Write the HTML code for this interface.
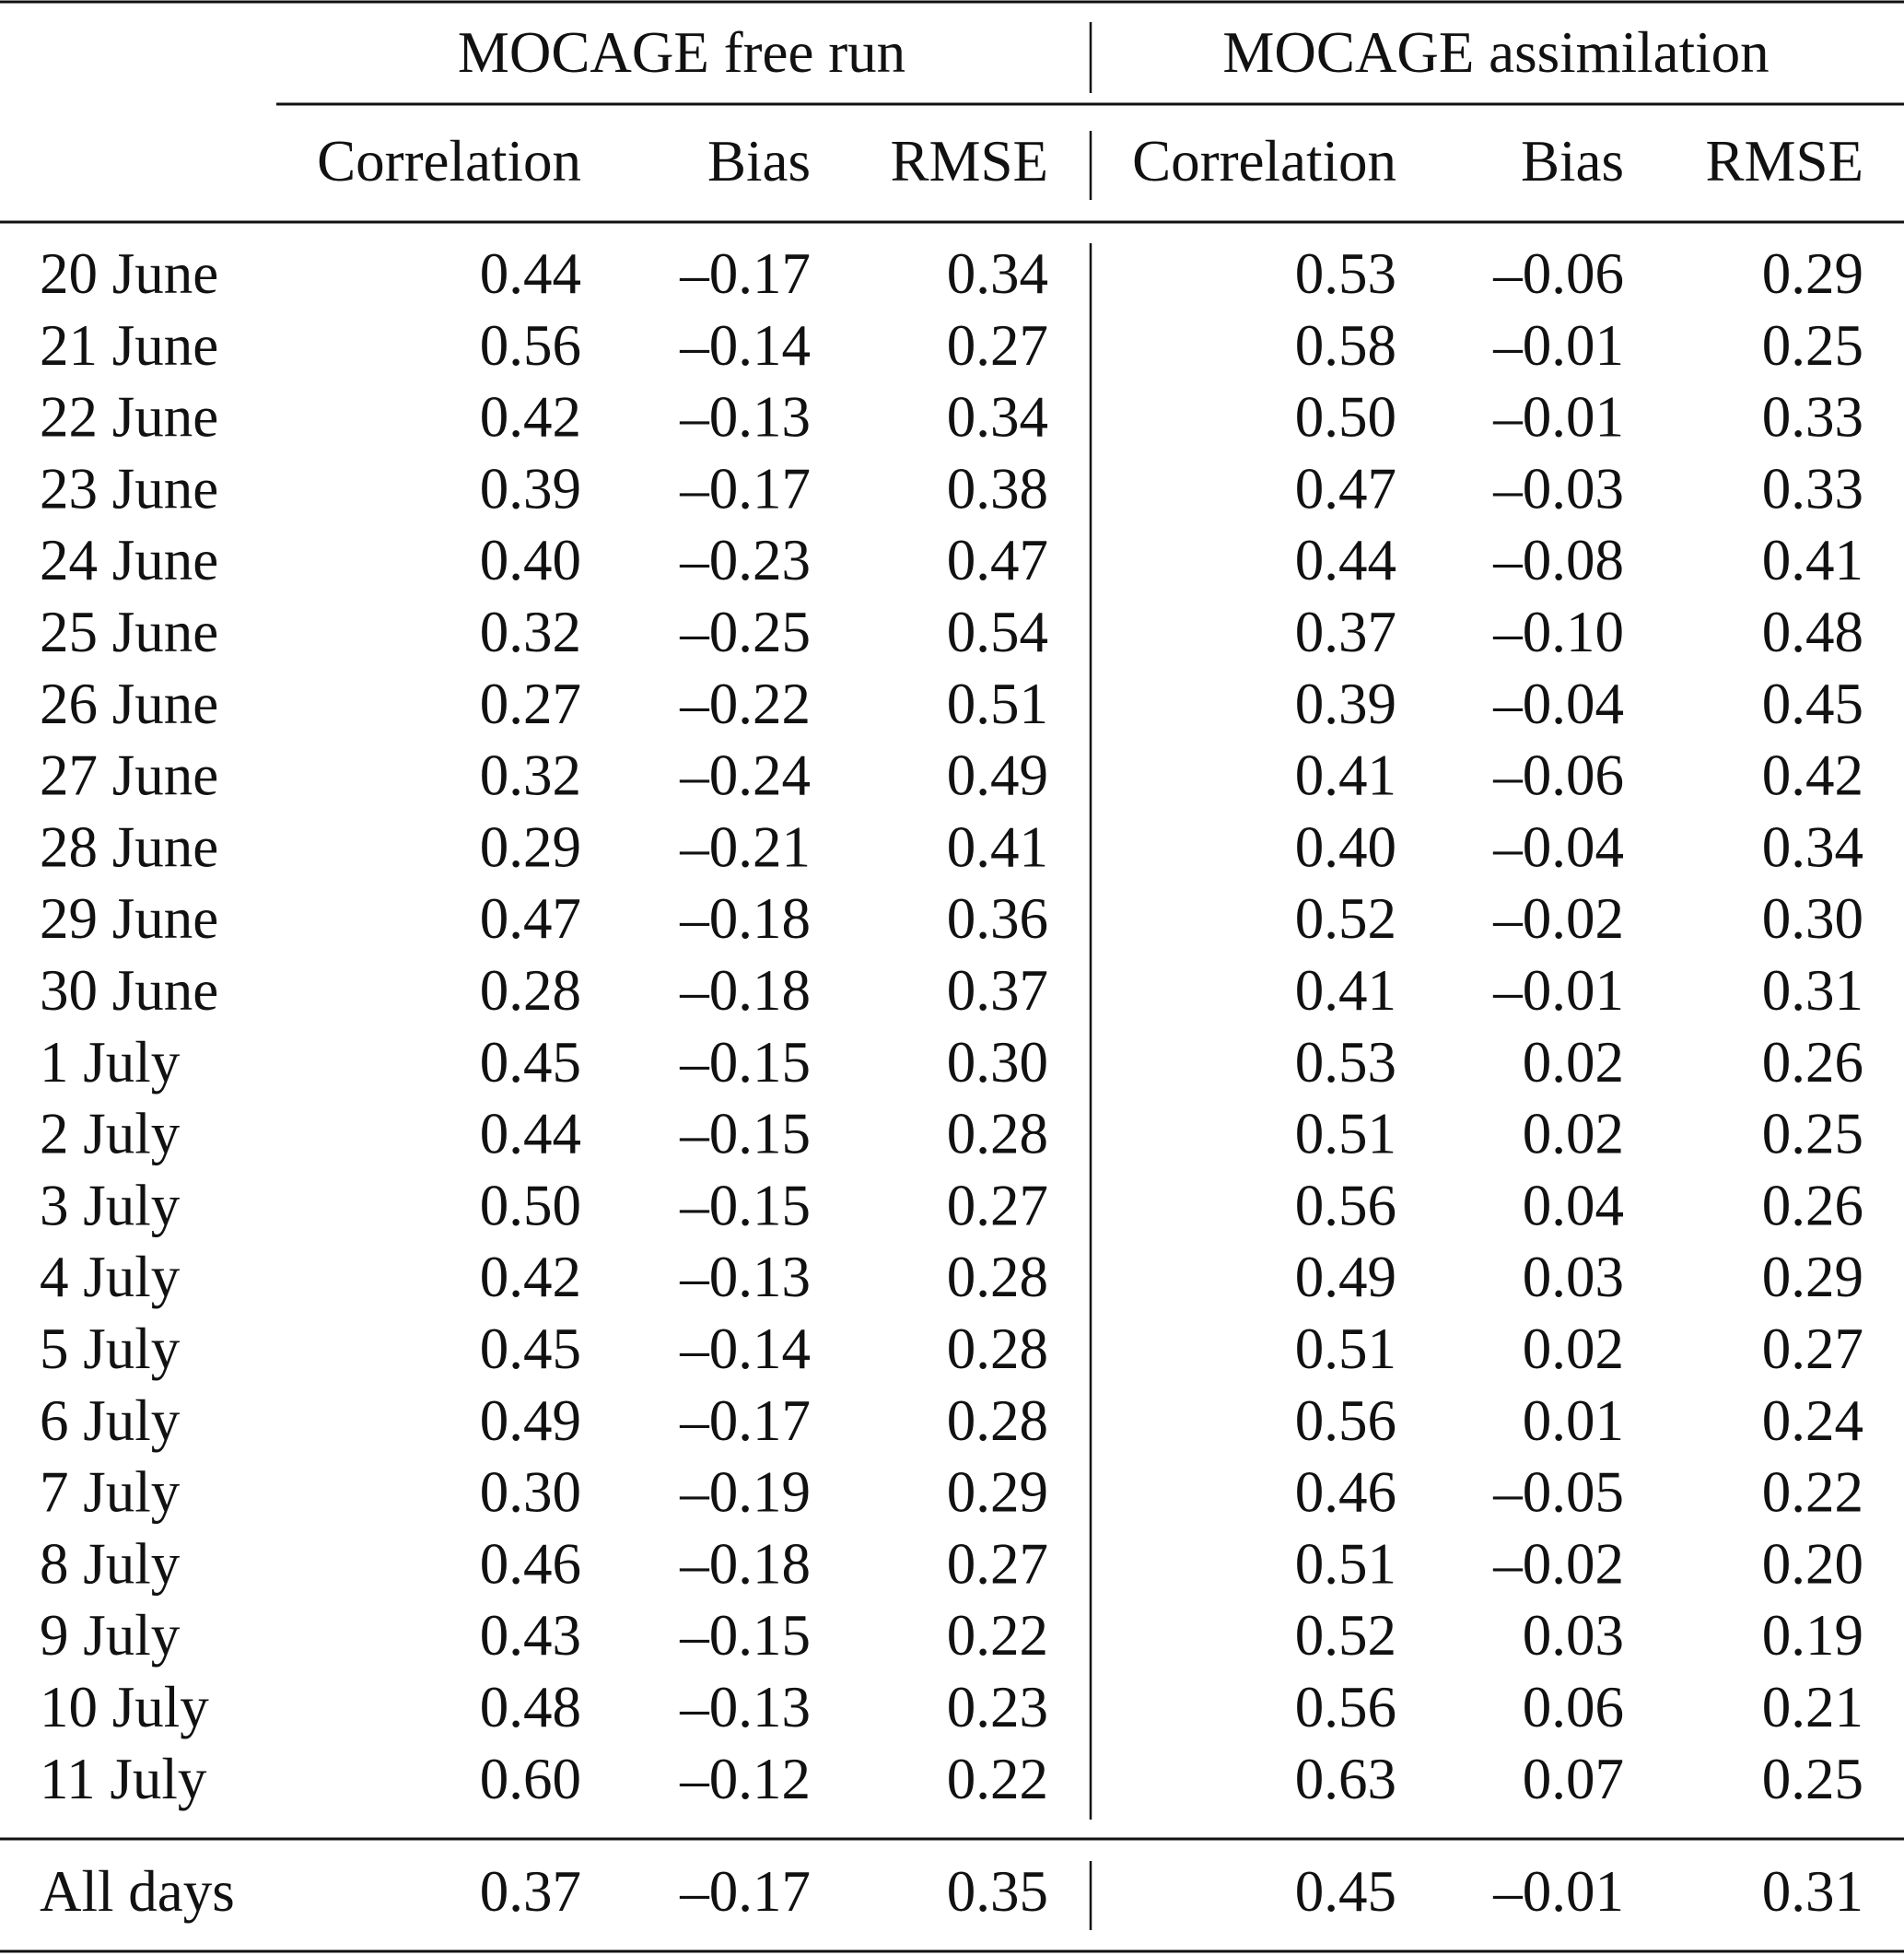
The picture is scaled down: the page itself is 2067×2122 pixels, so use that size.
<!DOCTYPE html>
<html><head><meta charset="utf-8"><style>
html,body{margin:0;padding:0;background:#fff;}
svg{display:block;}
text{font-family:"Liberation Serif",serif;font-size:63px;fill:#111;}
</style></head><body>
<svg width="2067" height="2122" viewBox="0 0 2067 2122" xmlns="http://www.w3.org/2000/svg">
<g stroke="#111" stroke-width="3">
<line x1="0" y1="2" x2="2067" y2="2"/>
<line x1="300" y1="113" x2="2067" y2="113"/>
<line x1="0" y1="241" x2="2067" y2="241"/>
<line x1="0" y1="1996" x2="2067" y2="1996"/>
<line x1="0" y1="2118" x2="2067" y2="2118"/>
</g>
<g stroke="#111" stroke-width="2.5">
<line x1="1184" y1="24" x2="1184" y2="101"/>
<line x1="1184" y1="142" x2="1184" y2="217"/>
<line x1="1184" y1="264" x2="1184" y2="1975"/>
<line x1="1184" y1="2020" x2="1184" y2="2095"/>
</g>
<text x="740" y="78" text-anchor="middle">MOCAGE free run</text>
<text x="1624" y="78" text-anchor="middle">MOCAGE assimilation</text>
<g text-anchor="end">
<text x="631" y="196">Correlation</text><text x="880" y="196">Bias</text><text x="1138" y="196">RMSE</text>
<text x="1516" y="196">Correlation</text><text x="1763" y="196">Bias</text><text x="2023" y="196">RMSE</text>
</g>
<g id="rows"></g>
</svg>
<script>
var d=[["20 June","0.44","–0.17","0.34","0.53","–0.06","0.29"],
["21 June","0.56","–0.14","0.27","0.58","–0.01","0.25"],
["22 June","0.42","–0.13","0.34","0.50","–0.01","0.33"],
["23 June","0.39","–0.17","0.38","0.47","–0.03","0.33"],
["24 June","0.40","–0.23","0.47","0.44","–0.08","0.41"],
["25 June","0.32","–0.25","0.54","0.37","–0.10","0.48"],
["26 June","0.27","–0.22","0.51","0.39","–0.04","0.45"],
["27 June","0.32","–0.24","0.49","0.41","–0.06","0.42"],
["28 June","0.29","–0.21","0.41","0.40","–0.04","0.34"],
["29 June","0.47","–0.18","0.36","0.52","–0.02","0.30"],
["30 June","0.28","–0.18","0.37","0.41","–0.01","0.31"],
["1 July","0.45","–0.15","0.30","0.53","0.02","0.26"],
["2 July","0.44","–0.15","0.28","0.51","0.02","0.25"],
["3 July","0.50","–0.15","0.27","0.56","0.04","0.26"],
["4 July","0.42","–0.13","0.28","0.49","0.03","0.29"],
["5 July","0.45","–0.14","0.28","0.51","0.02","0.27"],
["6 July","0.49","–0.17","0.28","0.56","0.01","0.24"],
["7 July","0.30","–0.19","0.29","0.46","–0.05","0.22"],
["8 July","0.46","–0.18","0.27","0.51","–0.02","0.20"],
["9 July","0.43","–0.15","0.22","0.52","0.03","0.19"],
["10 July","0.48","–0.13","0.23","0.56","0.06","0.21"],
["11 July","0.60","–0.12","0.22","0.63","0.07","0.25"]];
var xs=[631,880,1138,1516,1763,2023];
var g=document.getElementById("rows"),ns="http://www.w3.org/2000/svg";
function row(r,y){var t=document.createElementNS(ns,"text");t.setAttribute("x",43);t.setAttribute("y",y);t.textContent=r[0];g.appendChild(t);
for(var i=1;i<7;i++){t=document.createElementNS(ns,"text");t.setAttribute("x",xs[i-1]);t.setAttribute("y",y);t.setAttribute("text-anchor","end");t.textContent=r[i];g.appendChild(t);}}
for(var k=0;k<d.length;k++)row(d[k],318+k*77.8);
row(["All days","0.37","–0.17","0.35","0.45","–0.01","0.31"],2074);
</script>
</body></html>
